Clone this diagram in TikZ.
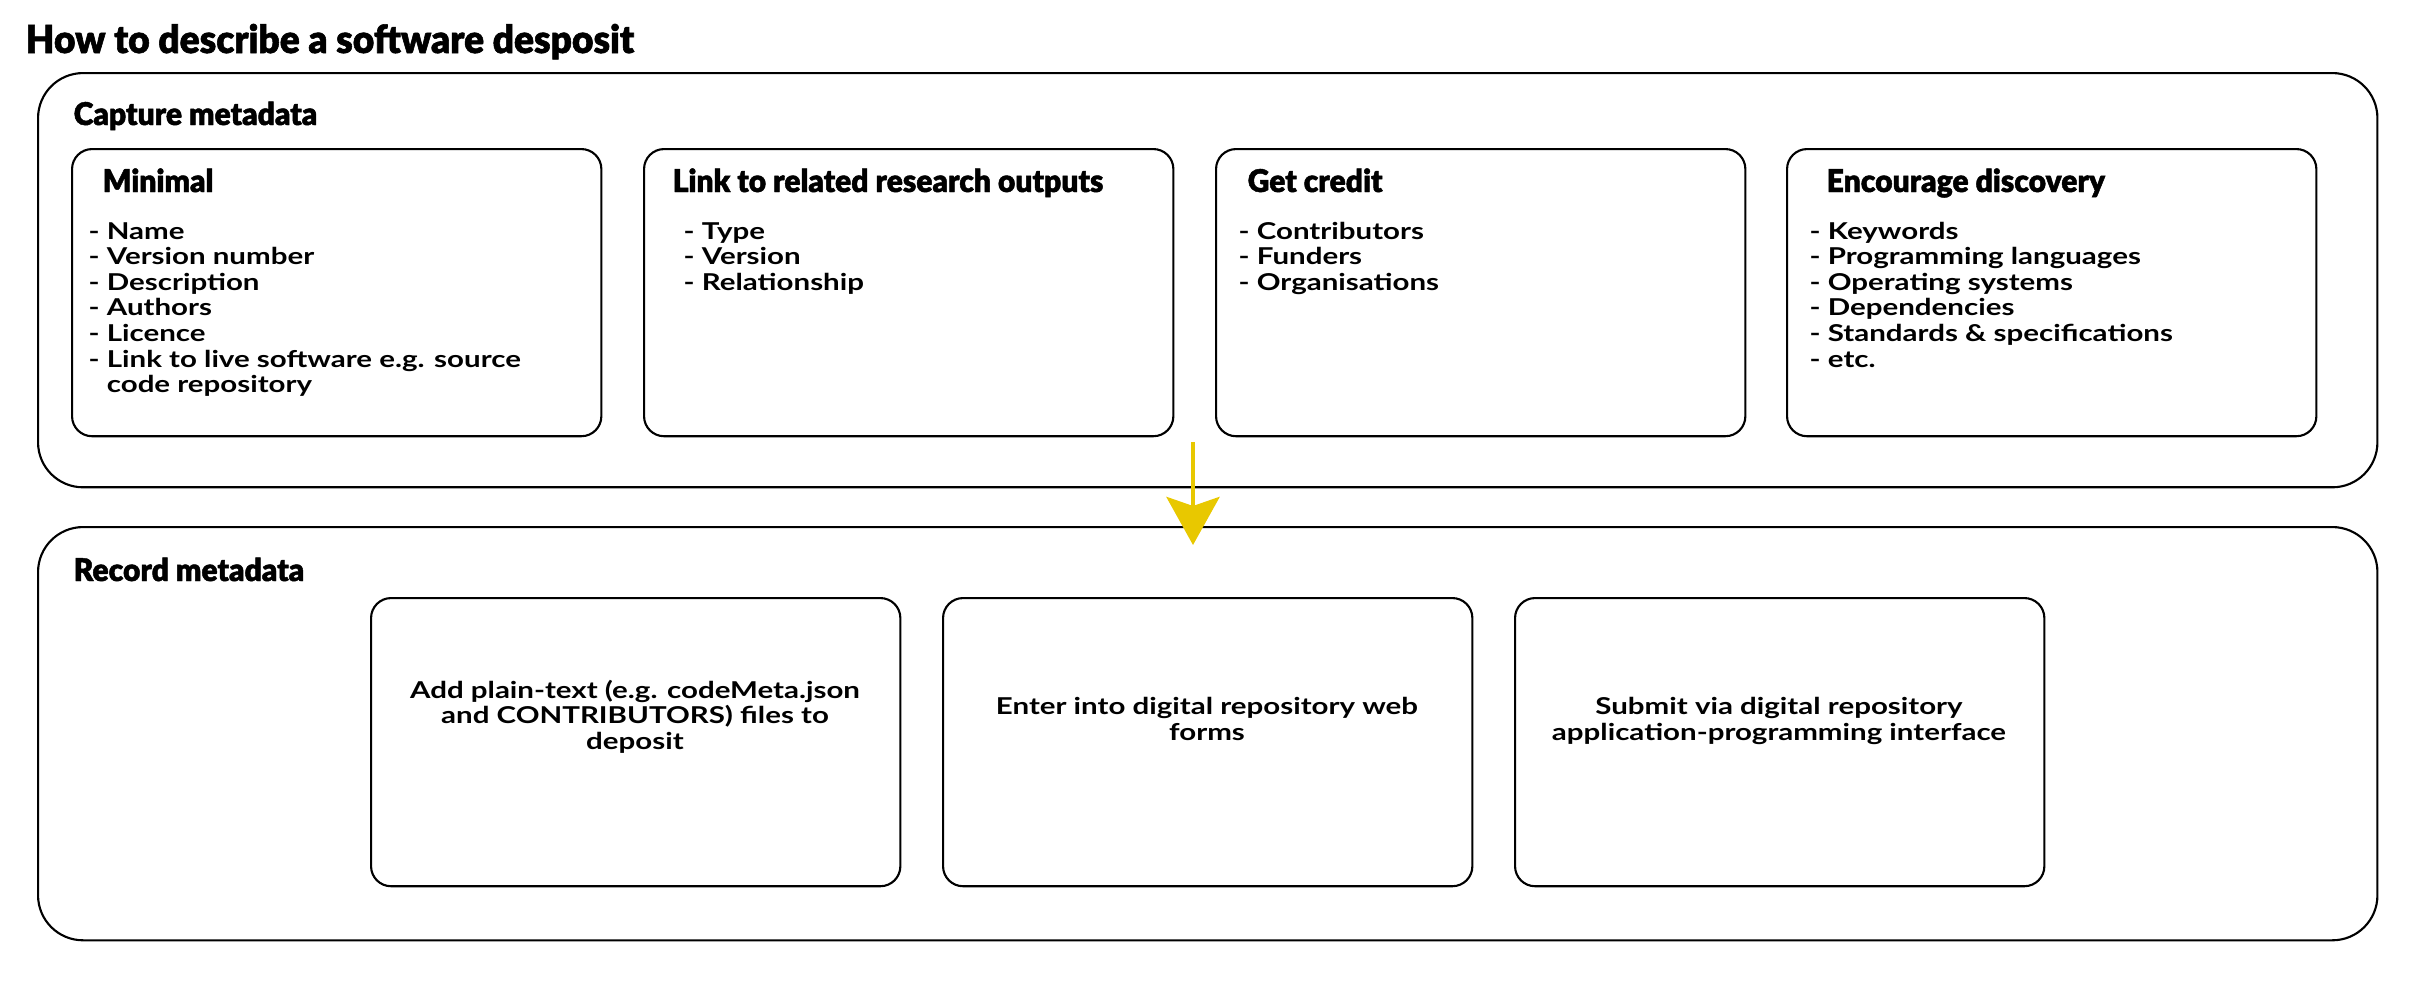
\documentclass[tikz,border=0pt]{standalone}
\usepackage{fontspec}
\setmainfont{Lato}[FakeStretch=1.27]
\newfontfamily\headfont{Lato Black}[FakeStretch=0.96, FakeBold=1.5]
\usetikzlibrary{arrows.meta}
\definecolor{flowyellow}{RGB}{232,200,0}

\begin{document}
\begin{tikzpicture}[x=0.01cm, y=-0.01cm,
  outerbox/.style={draw, line width=0.6pt, rounded corners=0.45cm, anchor=north west,
    minimum width=23.38cm, minimum height=4.14cm, inner sep=0},
  innerbox/.style={draw, line width=0.6pt, rounded corners=0.2cm, anchor=north west,
    minimum width=5.29cm, minimum height=2.87cm, inner sep=0},
  heading/.style={anchor=base west, inner sep=0, font=\headfont\fontsize{8.9}{10}\selectfont},
  item/.style={anchor=base west, inner sep=0, font=\bfseries\fontsize{6.6}{7.23}\selectfont},
  steplabel/.style={anchor=base, inner sep=0, align=center, font=\bfseries\fontsize{6.6}{7.23}\selectfont},
  flow/.style={draw=flowyellow, line width=1.4pt,
    -{Stealth[length=0.48cm, width=0.53cm, inset=0.09cm, flowyellow]}}]
  \useasboundingbox (0,0) rectangle (2418,1000);

  \node[heading, font=\headfont\fontsize{11}{12}\selectfont] (title) at (25,53) {How to describe a software desposit};

  % capture metadata
  \node[outerbox] (capture) at (37,72) {};
  \node[heading] (capturehead) at (73,125) {Capture metadata};

  \node[innerbox] (minimal) at (71,148) {};
  \node[heading] (minimalhead) at (102,192) {Minimal};
  \foreach \t [count=\i from 0] in {Name, Version number, Description, Authors, Licence, Link to live software e.g. source}
    \node[item] (min\i) at (88,239+25.6*\i) {- \t};
  \node[item] (min6) at (88,239+25.6*6) {\phantom{- }code repository};

  \node[innerbox] (related) at (643,148) {};
  \node[heading] (relatedhead) at (672,192) {Link to related research outputs};
  \foreach \t [count=\i from 0] in {Type, Version, Relationship}
    \node[item] (rel\i) at (683,239+25.6*\i) {- \t};

  \node[innerbox] (credit) at (1215,148) {};
  \node[heading] (credithead) at (1247,192) {Get credit};
  \foreach \t [count=\i from 0] in {Contributors, Funders, Organisations}
    \node[item] (cred\i) at (1238,239+25.6*\i) {- \t};

  \node[innerbox] (discovery) at (1786,148) {};
  \node[heading] (discoveryhead) at (1826,192) {Encourage discovery};
  \foreach \t [count=\i from 0] in {Keywords, Programming languages, Operating systems, Dependencies, Standards \& specifications, etc.}
    \node[item] (disc\i) at (1809,239+25.6*\i) {- \t};

  % record metadata
  \node[outerbox, minimum height=4.13cm] (record) at (37,526) {};
  \node[heading] (recordhead) at (73,581) {Record metadata};

  \node[innerbox, minimum height=2.88cm] (plaintext) at (370,597) {};
  \node[steplabel] (plaintextlabel) at (635,749) {Add plain-text (e.g. codeMeta.json\\and CONTRIBUTORS) files to\\deposit};

  \node[innerbox, minimum height=2.88cm] (webforms) at (942,597) {};
  \node[steplabel] (webformslabel) at (1207,740) {Enter into digital repository web\\forms};

  \node[innerbox, minimum height=2.88cm] (api) at (1514,597) {};
  \node[steplabel] (apilabel) at (1779,740) {Submit via digital repository\\application-programming interface};

  \coordinate (flowstart) at (1193,442);
  \coordinate (flowend) at (1193,545);
  \draw[flow] (flowstart) -- (flowend);
\end{tikzpicture}
\end{document}
